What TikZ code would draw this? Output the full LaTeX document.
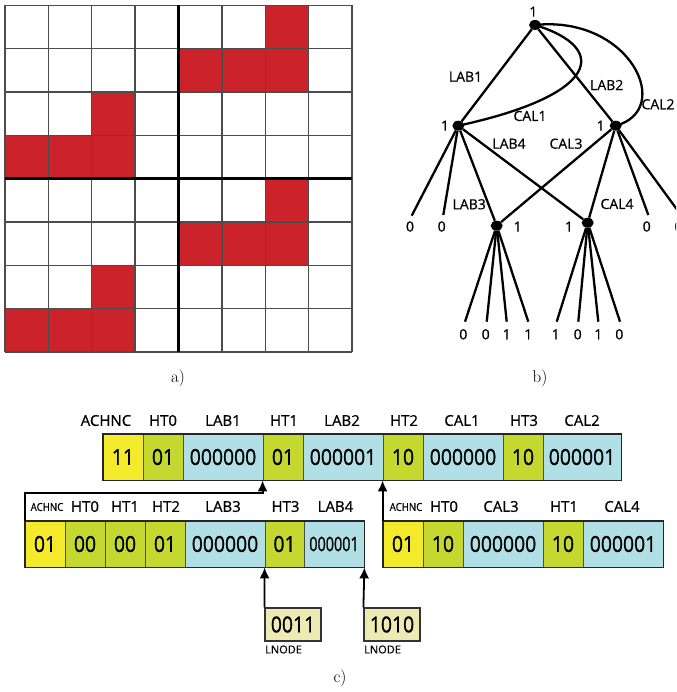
\documentclass[tikz,border=0pt]{standalone}
\usepackage{fontspec}
\newfontfamily\osans{Open Sans}[FakeBold=0.7]
\newfontfamily\osnar{Open Sans}[FakeStretch=0.88,FakeBold=0.9]
\newfontfamily\osnarr{Open Sans}[FakeStretch=0.72,FakeBold=0.9]
\newfontfamily\ossmall{Open Sans}[FakeStretch=0.88,FakeBold=0.6]
\usetikzlibrary{arrows.meta,shapes.geometric}
\definecolor{cellred}{RGB}{204,34,41}
\definecolor{cyel}{RGB}{242,234,42}
\definecolor{cgrn}{RGB}{197,216,47}
\definecolor{cblu}{RGB}{176,224,230}
\definecolor{cbox}{RGB}{238,234,180}
\tikzset{
  gridln/.style={draw=black!70, line width=1.3pt},
  thickln/.style={draw=black, line width=3.2pt},
  tdot/.style={ellipse, fill=black, minimum width=12pt, minimum height=10pt, inner sep=0pt},
  tedge/.style={line width=2.3pt, draw=black},
  tlab/.style={font=\osans\fontsize{14}{16}\selectfont, inner sep=0pt},
  hdr/.style={font=\osans\fontsize{15}{17}\selectfont, inner sep=0pt},
  hdrs/.style={font=\ossmall\fontsize{11}{13}\selectfont, inner sep=0pt},
  cellb/.style={draw=black!70, line width=0.8pt, minimum height=46pt, inner sep=0pt,
     font=\osnar\fontsize{22}{24}\selectfont},
  outerb/.style={draw=black!85, line width=1.8pt},
  conn/.style={line width=1.8pt, draw=black, -{Latex[length=11pt,width=10pt]}},
  lbox/.style={draw=black!80, line width=1.2pt, fill=cbox, minimum width=56pt, minimum height=33pt,
     inner sep=0pt, font=\osnar\fontsize{22}{24}\selectfont},
  lnlab/.style={font=\osans\fontsize{11}{13}\selectfont, inner sep=0pt, anchor=west},
  capt/.style={font=\fontsize{17}{20}\selectfont, inner sep=0pt}
}
\begin{document}
\begin{tikzpicture}[x=1pt,y=-1pt]
\useasboundingbox (0,0) rectangle (676,692);
\clip (0,0) rectangle (676,692);
% ---------- (a) grid ----------
\foreach \r/\c in {0/6,1/4,1/5,1/6,2/2,3/0,3/1,3/2,4/6,5/4,5/5,5/6,6/2,7/0,7/1,7/2}
  \fill[cellred] (5+\c*43.375, 5.5+\r*43.3125) rectangle ++(43.375,43.3125);
\foreach \i in {0,...,8} {
  \draw[gridln] (5+\i*43.375,5.5) -- (5+\i*43.375,352);
  \draw[gridln] (5,5.5+\i*43.3125) -- (352,5.5+\i*43.3125);
}
\draw[thickln] (178.5,5.5) -- (178.5,352);
\draw[thickln] (5,178.75) -- (352,178.75);
\node[capt] (capa) at (178,378) {a)};
% ---------- (b) tree ----------
\node[tdot] (root) at (535,25) {};
\node[tdot] (L) at (458.3,125.7) {};
\node[tdot] (R) at (615.7,125.7) {};
\node[tdot] (LC) at (496.7,225.7) {};
\node[tdot] (RC) at (587.7,222.7) {};
\draw[tedge] (root) -- (L);
\draw[tedge] (root) -- (R);
\draw[tedge] (L) -- (LC);
\draw[tedge] (L) -- (RC);
\draw[tedge] (R) -- (LC);
\draw[tedge] (R) -- (RC);
\draw[tedge] (root.center) .. controls (610,48) and (600,95) .. (L.center);
\draw[tedge] (root.center) .. controls (630,15) and (675,110) .. (R.center);
% leaves of L and R
\coordinate (la) at (411.7,215.7);
\coordinate (lb) at (443.3,215);
\coordinate (ra) at (648.3,215);
\coordinate (rb) at (681,215);
\draw[tedge] (L) -- (la);
\draw[tedge] (L) -- (lb);
\draw[tedge] (R) -- (ra);
\draw[tedge] (R) -- (rb);
% leaves of LC and RC
\foreach \x [count=\k] in {465,486.7,506.7,528.3} {
  \coordinate (lc\k) at (\x,321.7);
  \draw[tedge] (LC) -- (lc\k);
}
\foreach \x [count=\k] in {556.7,578.3,598.3,620} {
  \coordinate (rc\k) at (\x,321.7);
  \draw[tedge] (RC) -- (rc\k);
}
\node[tlab] (nroot) at (533.3,11.7) {1};
\node[tlab] (nL) at (445,125.7) {1};
\node[tlab] (nR) at (600.7,125.7) {1};
\node[tlab] (nLC) at (517.7,226.7) {1};
\node[tlab] (nRC) at (569,226.7) {1};
\node[tlab] (vla) at (410,226.5) {0};
\node[tlab] (vlb) at (441.7,226.5) {0};
\node[tlab] (vra) at (646.7,226.5) {0};
\node[tlab] (vrb) at (678.5,226.5) {0};
\foreach \x/\v [count=\k] in {463.3/0,485.7/0,506.7/1,528.3/1} \node[tlab] (vlc\k) at (\x,334.3) {\v};
\foreach \x/\v [count=\k] in {555.7/1,577.7/0,598.3/1,619.3/0} \node[tlab] (vrc\k) at (\x,334.3) {\v};
\node[tlab] (eLAB1) at (465.5,76.7) {LAB1};
\node[tlab] (eLAB2) at (606.7,85) {LAB2};
\node[tlab] (eCAL2) at (658,104.3) {CAL2};
\node[tlab] (eCAL1) at (530,116) {CAL1};
\node[tlab] (eLAB4) at (509,143.7) {LAB4};
\node[tlab] (eCAL3) at (566,143.7) {CAL3};
\node[tlab] (eLAB3) at (469.2,204.3) {LAB3};
\node[tlab] (eCAL4) at (617,204) {CAL4};
\node[capt] (capb) at (540,378) {b)};
% ---------- (c) tables ----------
% top row
\node[cellb, fill=cyel, minimum width=40pt] (t1) at (123,457) {11};
\node[cellb, fill=cgrn, minimum width=40pt] (t2) at (163,457) {01};
\node[cellb, fill=cblu, minimum width=80pt] (t3) at (223,457) {000000};
\node[cellb, fill=cgrn, minimum width=40pt] (t4) at (283,457) {01};
\node[cellb, fill=cblu, minimum width=80pt] (t5) at (343,457) {000001};
\node[cellb, fill=cgrn, minimum width=40pt] (t6) at (403,457) {10};
\node[cellb, fill=cblu, minimum width=80pt] (t7) at (463,457) {000000};
\node[cellb, fill=cgrn, minimum width=40pt] (t8) at (523,457) {10};
\node[cellb, fill=cblu, minimum width=78pt] (t9) at (582,457) {000001};
\draw[outerb] (t1.north west) rectangle (t9.south east);
\node[hdr] (h1) at (106,420.5) {ACHNC};
\node[hdr] (h2) at (163,420.5) {HT0};
\node[hdr] (h3) at (223,420.5) {LAB1};
\node[hdr] (h4) at (284,420.5) {HT1};
\node[hdr] (h5) at (342,420.5) {LAB2};
\node[hdr] (h6) at (404,420.5) {HT2};
\node[hdr] (h7) at (462,420.5) {CAL1};
\node[hdr] (h8) at (524,420.5) {HT3};
\node[hdr] (h9) at (582,420.5) {CAL2};
% second row left
\node[cellb, fill=cyel, minimum width=40pt] (l1) at (45,544) {01};
\node[cellb, fill=cgrn, minimum width=40pt] (l2) at (85,544) {00};
\node[cellb, fill=cgrn, minimum width=40pt] (l3) at (125,544) {00};
\node[cellb, fill=cgrn, minimum width=40pt] (l4) at (165,544) {01};
\node[cellb, fill=cblu, minimum width=80pt] (l5) at (225,544) {000000};
\node[cellb, fill=cgrn, minimum width=39pt] (l6) at (284.5,544) {01};
\node[cellb, fill=cblu, minimum width=60pt, font=\osnarr\fontsize{20}{22}\selectfont] (l7) at (334,544) {000001};
\draw[outerb] (l1.north west) rectangle (l7.south east);
\node[hdrs] (g1) at (47,507) {ACHNC};
\node[hdr] (g2) at (85,506.5) {HT0};
\node[hdr] (g3) at (125,506.5) {HT1};
\node[hdr] (g4) at (166,506.5) {HT2};
\node[hdr] (g5) at (223,506.5) {LAB3};
\node[hdr] (g6) at (285.5,506.5) {HT3};
\node[hdr] (g7) at (335.5,506.5) {LAB4};
% second row right
\node[cellb, fill=cyel, minimum width=40pt] (r1) at (403,544) {01};
\node[cellb, fill=cgrn, minimum width=40pt] (r2) at (443,544) {10};
\node[cellb, fill=cblu, minimum width=80pt] (r3) at (503,544) {000000};
\node[cellb, fill=cgrn, minimum width=40pt] (r4) at (563,544) {10};
\node[cellb, fill=cblu, minimum width=80pt] (r5) at (623,544) {000001};
\draw[outerb] (r1.north west) rectangle (r5.south east);
\node[hdrs] (k1) at (406,507) {ACHNC};
\node[hdr] (k2) at (444,506.5) {HT0};
\node[hdr] (k3) at (501,506.5) {CAL3};
\node[hdr] (k4) at (564,506.5) {HT1};
\node[hdr] (k5) at (622,506.5) {CAL4};
% LNODE boxes
\node[lbox] (b1) at (293,624.5) {0011};
\node[lbox] (b2) at (392,624.5) {1010};
\node[lnlab] (bl1) at (265,649.5) {LNODE};
\node[lnlab] (bl2) at (364,649.5) {LNODE};
% connectors
\coordinate (j1) at (t4.south west |- 0,493);
\draw[conn] (l1.north west) |- (j1) -- (t4.south west);
\draw[conn] (r1.north west) -- (t6.south west);
\draw[conn] (b1.north west) -- (l6.south west);
\draw[conn] (b2.north west) -- (l7.south east);
\node[capt] (capc) at (340,678) {c)};
\end{tikzpicture}
\end{document}
